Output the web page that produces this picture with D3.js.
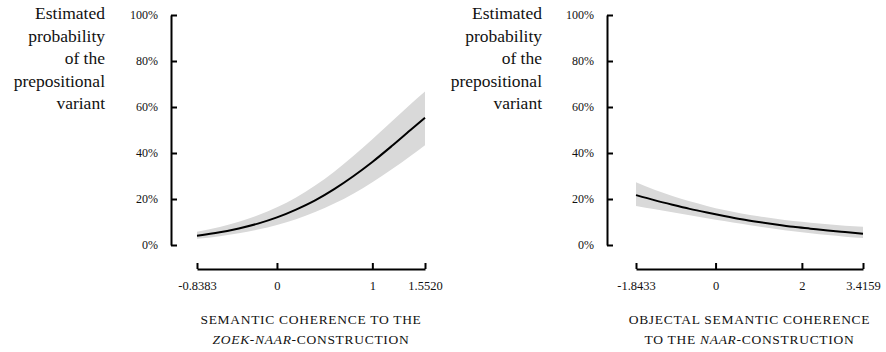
<!DOCTYPE html>
<html>
<head>
<meta charset="utf-8">
<script src="https://cdn.jsdelivr.net/npm/d3@7"></script>
<style>
  html, body { margin: 0; padding: 0; background: #fff; }
  svg { display: block; }
  svg text { font-family: "Liberation Serif", "Tinos", "Times New Roman", "DejaVu Serif", serif !important; fill: #111; }
</style>
</head>
<body>
<svg id="chart" width="886" height="352"></svg>
<script>
// ---- data ----
const yTicks = [0, 0.2, 0.4, 0.6, 0.8, 1.0];
const yTickLabels = ["0%", "20%", "40%", "60%", "80%", "100%"];
const yTitleLines = ["Estimated", "probability", "of the", "prepositional", "variant"];

// Left panel: semantic coherence to the zoek-naar-construction
const leftX     = [-0.8383, -0.6, -0.4, -0.2, 0, 0.2, 0.4, 0.6, 0.8, 1.0, 1.2, 1.4, 1.552];
const leftFit   = [0.040, 0.055, 0.072, 0.093, 0.120, 0.154, 0.194, 0.243, 0.299, 0.361, 0.429, 0.500, 0.553];
const leftLower = [0.027, 0.0385, 0.051, 0.067, 0.087, 0.112, 0.143, 0.180, 0.223, 0.273, 0.328, 0.387, 0.434];
const leftUpper = [0.058, 0.078, 0.101, 0.129, 0.164, 0.207, 0.259, 0.319, 0.387, 0.460, 0.536, 0.612, 0.667];
const leftXTicks = [-0.8383, 0, 1, 1.552];
const leftXTickLabels = ["-0.8383", "0", "1", "1.5520"];

// Right panel: objectal semantic coherence to the naar-construction
const rightX     = [-1.8433, -1.4, -1.0, -0.6, -0.2, 0.2, 0.6, 1.0, 1.4, 1.8, 2.2, 2.6, 3.0, 3.4159];
const rightFit   = [0.217, 0.194, 0.175, 0.157, 0.141, 0.126, 0.112, 0.100, 0.089, 0.079, 0.071, 0.063, 0.056, 0.049];
const rightLower = [0.170, 0.155, 0.142, 0.129, 0.116, 0.104, 0.092, 0.080, 0.070, 0.060, 0.051, 0.043, 0.036, 0.030];
const rightUpper = [0.273, 0.239, 0.213, 0.190, 0.170, 0.152, 0.137, 0.125, 0.114, 0.104, 0.097, 0.090, 0.084, 0.079];
const rightXTicks = [-1.8433, 0, 2, 3.4159];
const rightXTickLabels = ["-1.8433", "0", "2", "3.4159"];

const panels = [
  { x: leftX, fit: leftFit, lo: leftLower, hi: leftUpper, ticks: leftXTicks, tickLabels: leftXTickLabels,
    axisX: 171, xRange: [197, 425], titleRight: 105,
    title: [[{t: "SEMANTIC COHERENCE TO THE", i: false}],
            [{t: "ZOEK", i: true}, {t: "-", i: false}, {t: "NAAR", i: true}, {t: "-CONSTRUCTION", i: false}]] },
  { x: rightX, fit: rightFit, lo: rightLower, hi: rightUpper, ticks: rightXTicks, tickLabels: rightXTickLabels,
    axisX: 607, xRange: [636, 863], titleRight: 542,
    title: [[{t: "OBJECTAL SEMANTIC COHERENCE", i: false}],
            [{t: "TO THE ", i: false}, {t: "NAAR", i: true}, {t: "-CONSTRUCTION", i: false}]] }
];

const FONT = '"Liberation Serif", "Tinos", "Times New Roman", "DejaVu Serif", serif';
const svg = d3.select("#chart");
const yRange = [245, 15];
const xAxisY = 269;

panels.forEach(p => {
  const g = svg.append("g");
  const x = d3.scaleLinear().domain([p.ticks[0], p.ticks[p.ticks.length - 1]]).range(p.xRange);
  const y = d3.scaleLinear().domain([0, 1]).range(yRange);

  const rows = p.x.map((v, i) => ({ x: v, fit: p.fit[i], lo: p.lo[i], hi: p.hi[i] }));

  // band
  g.append("path")
    .datum(rows)
    .attr("fill", "#d9d9d9")
    .attr("d", d3.area().curve(d3.curveMonotoneX)
      .x(d => x(d.x)).y0(d => y(d.lo)).y1(d => y(d.hi)));

  // fit line
  g.append("path")
    .datum(rows)
    .attr("fill", "none")
    .attr("stroke", "#000")
    .attr("stroke-width", 2)
    .attr("d", d3.line().curve(d3.curveMonotoneX).x(d => x(d.x)).y(d => y(d.fit)));

  // y axis
  const ya = g.append("g")
    .attr("transform", `translate(${p.axisX},0)`)
    .call(d3.axisLeft(y).tickValues(yTicks).tickFormat((d, i) => yTickLabels[i])
      .tickSizeInner(-6).tickSizeOuter(0).tickPadding(13));
  ya.attr("font-family", FONT);
  ya.select(".domain").attr("stroke-width", 2);
  ya.selectAll(".tick line").attr("stroke-width", 2);
  ya.selectAll(".tick text").attr("font-size", 12).attr("fill", "#111");

  // x axis
  const xa = g.append("g")
    .attr("transform", `translate(0,${xAxisY})`)
    .call(d3.axisBottom(x).tickValues(p.ticks).tickFormat((d, i) => p.tickLabels[i])
      .tickSizeInner(-6).tickSizeOuter(0).tickPadding(12));
  xa.attr("font-family", FONT);
  xa.select(".domain").attr("stroke-width", 2);
  xa.selectAll(".tick line").attr("stroke-width", 2);
  xa.selectAll(".tick text").attr("font-size", 12.5).attr("fill", "#111");

  // y title
  const yt = g.append("text").attr("text-anchor", "end").attr("font-size", 17.5).attr("font-family", FONT);
  yTitleLines.forEach((line, i) => {
    yt.append("tspan").attr("x", p.titleRight).attr("y", 19 + i * 22.5).text(line);
  });

  // x title
  const cx = (p.xRange[0] + p.xRange[1]) / 2;
  p.title.forEach((parts, li) => {
    const t = g.append("text")
      .attr("x", cx).attr("y", 323.5 + li * 20.5)
      .attr("text-anchor", "middle")
      .attr("font-size", 13.5)
      .attr("font-family", FONT)
      .attr("letter-spacing", 0.7);
    parts.forEach(pt => {
      t.append("tspan").attr("font-style", pt.i ? "italic" : "normal").text(pt.t);
    });
  });
});
</script>
</body>
</html>
